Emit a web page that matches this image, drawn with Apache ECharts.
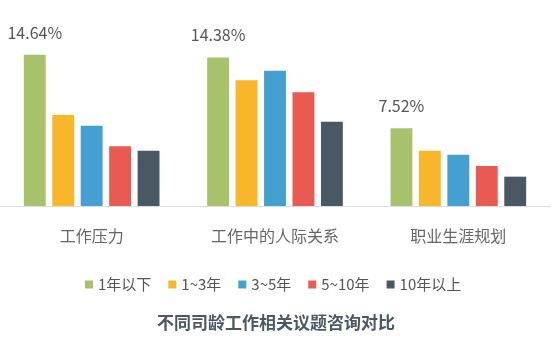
<!DOCTYPE html>
<html><head><meta charset="utf-8">
<script src="https://cdn.jsdelivr.net/npm/echarts@6/dist/echarts.min.js"></script>
<style>html,body{margin:0;padding:0;background:#fff}#c{width:554px;height:351px}</style>
</head><body><div id="c"></div>
<script>
const categories = ['工作压力', '工作中的人际关系', '职业生涯规划'];
const seriesNames = ['1年以下', '1~3年', '3~5年', '5~10年', '10年以上'];
const s1 = [14.64, 14.38, 7.52];
const s2 = [8.81, 12.17, 5.35];
const s3 = [7.77, 13.10, 4.97];
const s4 = [5.78, 11.01, 3.87];
const s5 = [5.35, 8.16, 2.84];
const colors = ['#A8C26B', '#F8B62B', '#43A0D1', '#E95A53', '#4A5864'];
const allData = [s1, s2, s3, s4, s5];
const font = '"Noto Sans CJK SC", "Noto Sans", sans-serif';
const chart = echarts.init(document.getElementById('c'));
chart.setOption({
  animation: false,
  title: {
    text: '不同司龄工作相关议题咨询对比',
    left: 152, top: 309,
    textStyle: { fontFamily: font, fontSize: 17, fontWeight: 'bold', color: '#4A5866' }
  },
  legend: {
    left: 80, top: 272,
    itemWidth: 8, itemHeight: 8, itemGap: 17,
    icon: 'rect',
    textStyle: { fontFamily: font, fontSize: 15, color: '#555' },
    data: seriesNames
  },
  grid: { left: 0, right: 4, top: 51, bottom: 145 },
  xAxis: {
    type: 'category', data: categories,
    axisLine: { lineStyle: { color: '#DDDDDD' } },
    axisTick: { show: false },
    axisLabel: { fontFamily: font, fontSize: 16, color: '#666', margin: 22 }
  },
  yAxis: { type: 'value', min: 0, max: 15, show: false, splitLine: { show: false } },
  series: allData.map((d, i) => ({
    name: seriesNames[i], type: 'bar', data: d,
    barGap: '30%', barCategoryGap: '26%',
    itemStyle: { color: colors[i] },
    label: i === 0 ? {
      show: true, position: 'top', distance: 14,
      formatter: p => p.value.toFixed(2) + '%',
      fontFamily: font, fontSize: 16, color: '#555'
    } : { show: false }
  }))
});
</script></body></html>
